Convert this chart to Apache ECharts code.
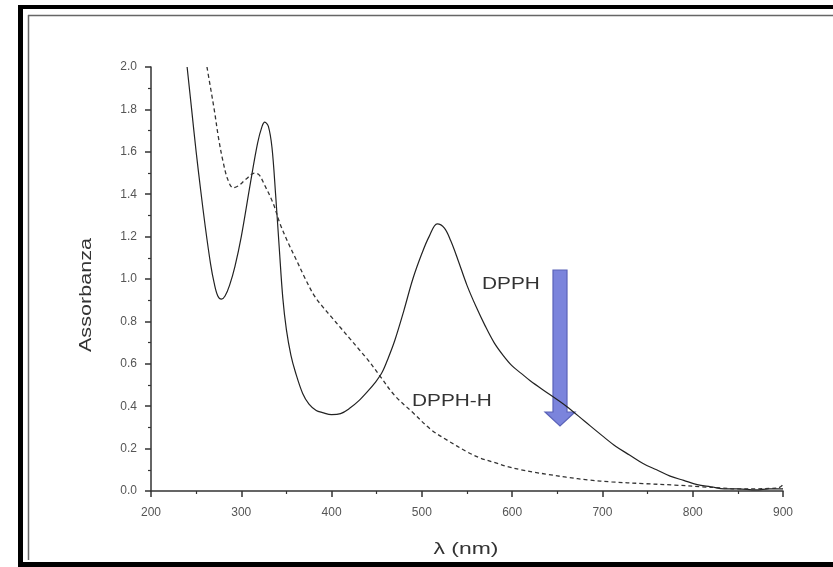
<!DOCTYPE html>
<html>
<head>
<meta charset="utf-8">
<script src="https://cdn.jsdelivr.net/npm/echarts@6/dist/echarts.min.js"></script>
<style>
html,body{margin:0;padding:0;background:#fff;}
#chart{width:833px;height:567px;}
</style>
</head>
<body>
<div id="chart"></div>
<script>
// Wavelength (nm) and absorbance for DPPH (solid)
const dpphX = [240, 245, 250, 255, 260, 266, 270, 274, 278, 282, 287, 293, 300, 310, 318, 323, 326, 330, 334, 338, 342, 346, 350, 355, 360, 368, 375, 383, 390, 400, 410, 420, 430, 440, 448, 456, 463, 470, 480, 490, 500, 508, 517, 525, 532, 540, 550, 560, 570, 580, 590, 600, 610, 620, 640, 660, 680, 700, 715, 730, 745, 760, 775, 790, 805, 820, 835, 850, 870, 885, 900];
const dpphY = [2.00, 1.80, 1.60, 1.42, 1.25, 1.07, 0.98, 0.92, 0.905, 0.92, 0.97, 1.06, 1.20, 1.45, 1.64, 1.72, 1.74, 1.72, 1.62, 1.40, 1.15, 0.91, 0.76, 0.64, 0.56, 0.46, 0.41, 0.38, 0.37, 0.36, 0.365, 0.39, 0.425, 0.47, 0.51, 0.56, 0.63, 0.71, 0.85, 1.00, 1.12, 1.20, 1.26, 1.24, 1.18, 1.09, 0.97, 0.87, 0.78, 0.70, 0.64, 0.59, 0.555, 0.52, 0.46, 0.40, 0.33, 0.26, 0.21, 0.17, 0.13, 0.10, 0.07, 0.05, 0.03, 0.02, 0.01, 0.01, 0.005, 0.01, 0.01];
// DPPH-H (dashed)
const dpphHX = [262, 266, 270, 275, 280, 285, 291, 297, 305, 315, 320, 325, 335, 343, 352, 361, 371, 381, 390, 400, 410, 420, 430, 440, 454, 470, 490, 510, 528, 550, 565, 580, 595, 610, 625, 640, 660, 685, 710, 745, 780, 810, 830, 850, 870, 885, 895, 900];
const dpphHY = [2.00, 1.90, 1.80, 1.66, 1.55, 1.47, 1.43, 1.44, 1.47, 1.50, 1.49, 1.45, 1.36, 1.26, 1.17, 1.09, 1.00, 0.92, 0.87, 0.82, 0.77, 0.72, 0.67, 0.62, 0.54, 0.45, 0.37, 0.29, 0.24, 0.185, 0.155, 0.135, 0.115, 0.10, 0.088, 0.078, 0.065, 0.052, 0.043, 0.035, 0.028, 0.02, 0.015, 0.01, 0.01, 0.012, 0.015, 0.03];

const xTicks = {min: 200, max: 900, interval: 100};
const yTicks = {min: 0, max: 2.0, interval: 0.2};

const solidData = dpphX.map((x, i) => [x, dpphY[i]]);
const dashedData = dpphHX.map((x, i) => [x, dpphHY[i]]);

const chart = echarts.init(document.getElementById('chart'), null, {renderer: 'canvas'});
const FONT = 'Liberation Sans, Arial, sans-serif';
const labelStyle = {color: '#555', fontSize: 12, fontFamily: FONT};
const axisLineStyle = {color: '#333', width: 1.5};

chart.setOption({
  animation: false,
  backgroundColor: '#fff',
  grid: {left: 151, right: 50, top: 67, bottom: 76},
  xAxis: {
    type: 'value', min: xTicks.min, max: xTicks.max, interval: xTicks.interval,
    axisLine: {show: true, onZero: false, lineStyle: axisLineStyle},
    axisTick: {show: true, inside: false, length: 6, lineStyle: axisLineStyle},
    minorTick: {show: true, splitNumber: 2, length: 3, lineStyle: {color: '#333', width: 1.2}},
    splitLine: {show: false},
    axisLabel: Object.assign({margin: 16}, labelStyle)
  },
  yAxis: {
    type: 'value', min: yTicks.min, max: yTicks.max, interval: yTicks.interval,
    axisLine: {show: true, onZero: false, lineStyle: axisLineStyle},
    axisTick: {show: true, inside: false, length: 6, lineStyle: axisLineStyle},
    minorTick: {show: true, splitNumber: 2, length: 3, lineStyle: {color: '#333', width: 1.2}},
    splitLine: {show: false},
    axisLabel: Object.assign({margin: 14, formatter: v => v.toFixed(1)}, labelStyle)
  },
  series: [
    {
      name: 'DPPH', type: 'line', data: solidData, smooth: 0.35, showSymbol: false,
      lineStyle: {color: '#222', width: 1.2}
    },
    {
      name: 'DPPH-H', type: 'line', data: dashedData, smooth: 0.35, showSymbol: false,
      lineStyle: {color: '#333', width: 1.3, type: [4, 3]}
    }
  ],
  graphic: [
    // frame
    {type: 'rect', shape: {x: 18, y: 5, width: 815, height: 4}, style: {fill: '#000'}, silent: true},
    {type: 'rect', shape: {x: 18, y: 5, width: 5, height: 562}, style: {fill: '#000'}, silent: true},
    {type: 'rect', shape: {x: 18, y: 562, width: 815, height: 5}, style: {fill: '#000'}, silent: true},
    {type: 'line', shape: {x1: 28, y1: 15.5, x2: 833, y2: 15.5}, style: {stroke: '#666', lineWidth: 1.5}, silent: true},
    {type: 'line', shape: {x1: 28.5, y1: 15, x2: 28.5, y2: 560}, style: {stroke: '#666', lineWidth: 1.5}, silent: true},
    // axis names
    {type: 'text', x: 87, y: 295, rotation: Math.PI / 2, scaleX: 1.35,
      style: {text: 'Assorbanza', fill: '#333', fontSize: 16, fontFamily: FONT, align: 'center', verticalAlign: 'middle'}},
    {type: 'text', x: 466, y: 549, scaleX: 1.35,
      style: {text: 'λ (nm)', fill: '#333', fontSize: 17, fontFamily: FONT, align: 'center', verticalAlign: 'middle'}},
    // annotations
    {type: 'text', x: 482, y: 285, scaleX: 1.3,
      style: {text: 'DPPH', fill: '#333', fontSize: 16, fontFamily: FONT, align: 'left', verticalAlign: 'middle'}},
    {type: 'text', x: 412, y: 402, scaleX: 1.3,
      style: {text: 'DPPH-H', fill: '#333', fontSize: 16, fontFamily: FONT, align: 'left', verticalAlign: 'middle'}},
    {type: 'polygon', shape: {points: [[553, 270], [567, 270], [567, 412], [575, 412], [560, 426], [545, 412], [553, 412]]},
      style: {fill: '#7b84dc', stroke: '#5a62b8', lineWidth: 1.2}}
  ]
});
</script>
</body>
</html>
